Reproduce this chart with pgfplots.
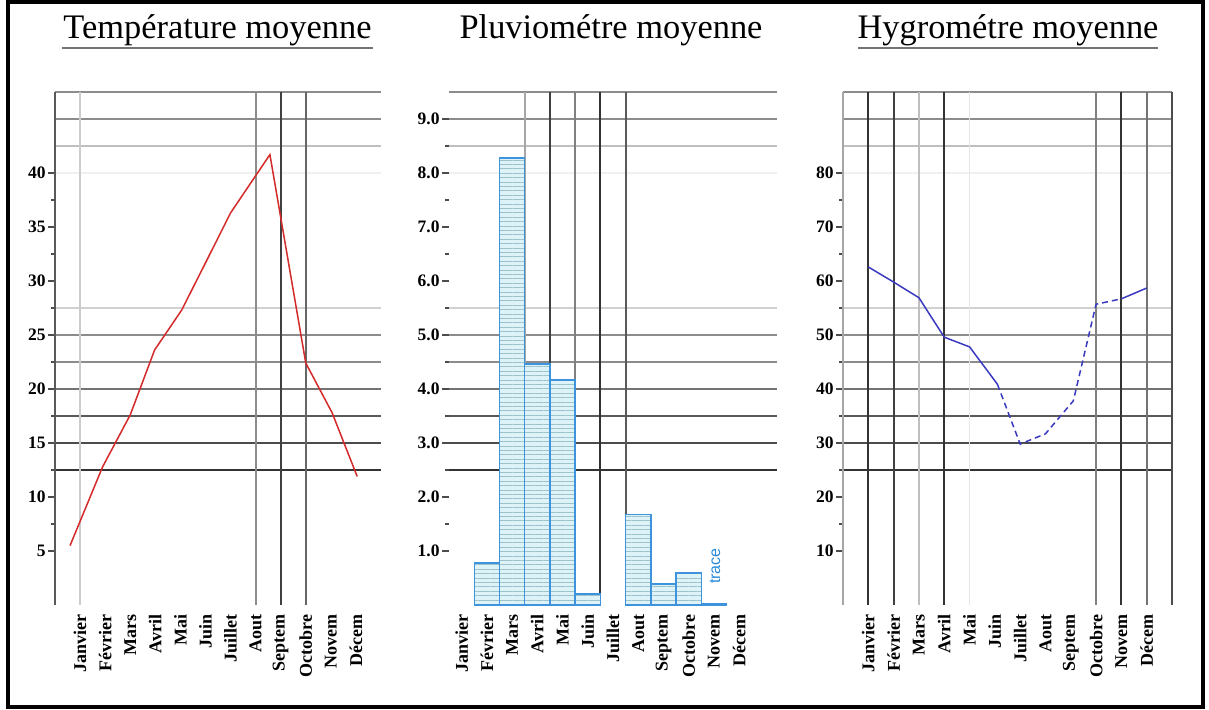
\documentclass[border=0pt]{standalone}
\usepackage{pgfplots}
\pgfplotsset{compat=1.18}
\usepackage{fontspec}
\setmainfont{Liberation Serif}
\setsansfont{Liberation Sans}
\usetikzlibrary{patterns.meta}

\definecolor{tred}{HTML}{D42A2A}
\definecolor{hblue}{HTML}{3A3AC0}
\definecolor{bedge}{HTML}{3D93DC}
\definecolor{bfill}{HTML}{DDF3F7}
\definecolor{bpat}{HTML}{9CC3CC}
\definecolor{trcol}{HTML}{2A8AD8}

\newcommand{\hg}[2]{\draw[#2, line width=0.9pt] ({rel axis cs:0,0} |- {axis cs:1,#1}) -- ({rel axis cs:1,0} |- {axis cs:1,#1});}
\newcommand{\vg}[2]{\draw[#2, line width=0.9pt] ({axis cs:#1,0} |- {rel axis cs:0,0}) -- ({axis cs:#1,0} |- {rel axis cs:0,1});}

\pgfplotsset{
  panel/.style={
    scale only axis, height=256.5pt, anchor=south west,
    ymin=0, axis line style={draw=none},
    xtick={1,...,12},
    xticklabels={Janvier,Février,Mars,Avril,Mai,Juin,Juillet,Aout,Septem,Octobre,Novem,Décem},
    x tick label style={rotate=90, anchor=east, font=\bfseries\fontsize{9}{10}\selectfont, inner sep=1pt},
    major x tick style={draw=none},
    ytick pos=left,
    tick align=outside,
    y tick label style={font=\bfseries\fontsize{8.75}{10}\selectfont, inner sep=1pt},
    major tick length=3.5pt, minor tick length=2pt,
    every tick/.style={black!70, line width=0.6pt},
    minor y tick num=1,
    clip=false,
  }
}

\begin{document}
\begin{tikzpicture}[x=0.5pt, y=0.5pt]
\useasboundingbox (0,0) rectangle (1209,710);
\fill[white] (0,0) rectangle (1209,710);
\draw[line width=2pt] (8,3) rectangle (1203,708);

% titles
\node[font=\fontsize{17.2}{20}\selectfont, anchor=base] at (217.5,671) {Température moyenne};
\draw[black!55, line width=0.8pt] (62,662) -- (373,662);
\node[font=\fontsize{17.2}{20}\selectfont, anchor=base] at (611,671) {Pluviométre moyenne};
\node[font=\fontsize{17.2}{20}\selectfont, anchor=base] at (1008,671) {Hygrométre moyenne};
\draw[black!55, line width=0.8pt] (858,662) -- (1158,662);

% Panel 1 : temperature
\begin{axis}[panel, at={(27.5pt,52.5pt)}, width=163pt,
  xmin=0, xmax=13, ymax=47.5,
  ytick={5,10,...,40}, yticklabels={5,10,15,20,25,30,35,40}]
\hg{47.5}{black!45}
\hg{45}{black!45}
\hg{42.5}{black!25}
\hg{40}{black!6}
\hg{27.5}{black!18}
\hg{25}{black!45}
\hg{22.5}{black!45}
\hg{20}{black!55}
\hg{17.5}{black!65}
\hg{15}{black!70}
\hg{12.5}{black!80}
\vg{1}{black!20}
\vg{8}{black!45}
\vg{9}{black!75}
\vg{10}{black!60}
\draw[black!65, line width=0.9pt] (rel axis cs:0,0) -- (rel axis cs:0,1);
\addplot[tred, line width=0.75pt, mark=none] coordinates {
(0.6,5.5) (1.9,12.8) (3.0,17.6) (3.97,23.6) (5.05,27.3) (6.05,31.9) (7.0,36.3) (8.57,41.7) (10.0,22.4) (11.05,17.8) (12.05,11.9)};
\end{axis}

% Panel 2 : rainfall
\begin{axis}[panel, at={(224.5pt,52.5pt)}, width=164pt,
  xmin=0.5, xmax=13.5, ymax=9.5,
  ytick={1,2,...,9}, yticklabels={1.0,2.0,3.0,4.0,5.0,6.0,7.0,8.0,9.0}]
\hg{9.5}{black!45}
\hg{9}{black!45}
\hg{8.5}{black!25}
\hg{8}{black!6}
\hg{5.5}{black!18}
\hg{5}{black!45}
\hg{4.5}{black!45}
\hg{4}{black!55}
\hg{3.5}{black!65}
\hg{3}{black!70}
\hg{2.5}{black!80}
\vg{3.5}{black!35}
\vg{4.5}{black!75}
\vg{5.5}{black!50}
\vg{6.5}{black!80}
\vg{7.5}{black!65}
\addplot[ybar, bar width=1, draw=bedge, line width=0.7pt, fill=bfill,
  postaction={pattern={Lines[angle=0,distance=2.2pt,line width=0.35pt]}, pattern color=bpat}]
  coordinates {(2,0.78) (3,8.28) (4,4.46) (5,4.17) (6,0.2) (8,1.68) (9,0.39) (10,0.59) (11,0.03)};
\node[rotate=90, text=trcol, font=\sffamily\fontsize{8}{9}\selectfont] at (axis cs:11.04,0.72) {trace};
\end{axis}

% Panel 3 : humidity
\begin{axis}[panel, at={(421.5pt,52.5pt)}, width=164.5pt,
  xmin=0, xmax=13, ymax=95,
  ytick={10,20,...,80}, yticklabels={10,20,30,40,50,60,70,80}]
\hg{95}{black!45}
\hg{90}{black!45}
\hg{85}{black!25}
\hg{80}{black!6}
\hg{55}{black!18}
\hg{50}{black!45}
\hg{45}{black!45}
\hg{40}{black!55}
\hg{35}{black!65}
\hg{30}{black!70}
\hg{25}{black!80}
\vg{1}{black!80}
\vg{2}{black!75}
\vg{3}{black!25}
\vg{4}{black!80}
\vg{5}{black!10}
\vg{10}{black!50}
\vg{11}{black!80}
\vg{12}{black!55}
\vg{13}{black!70}
\draw[black!35, line width=0.9pt] (rel axis cs:0,0) -- (rel axis cs:0,1);
\addplot[hblue, line width=0.75pt, mark=none] coordinates {
(1,62.6) (2,59.8) (3,56.9) (4,49.6) (5,47.8) (6.1,40.9)};
\addplot[hblue, line width=0.75pt, mark=none, densely dashed] coordinates {
(6.1,40.9) (7,29.8) (8,31.7) (9.1,37.8) (10,55.7) (11,56.7)};
\addplot[hblue, line width=0.75pt, mark=none] coordinates {
(11,56.7) (12,58.7)};
\end{axis}
\end{tikzpicture}
\end{document}
